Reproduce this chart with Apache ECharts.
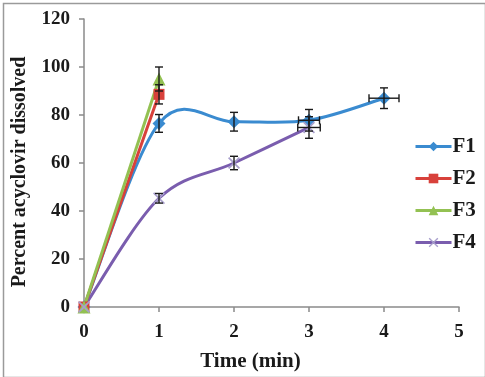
<!DOCTYPE html>
<html>
<head>
<meta charset="utf-8">
<script src="https://cdn.jsdelivr.net/npm/echarts@6/dist/echarts.min.js"></script>
<style>html,body{margin:0;padding:0;background:#fff}#c{width:485px;height:377px}</style>
</head>
<body>
<div id="c"></div>
<script>
// ---- data ----
var xTicks = [0, 1, 2, 3, 4, 5];
var yTicks = [0, 20, 40, 60, 80, 100, 120];
var seriesNames = ['F1', 'F2', 'F3', 'F4'];

var f1Time = [0, 1, 2, 3, 4];
var f1Value = [0, 76.5, 77.2, 77.8, 87];
var f1YErr = [0, 3.7, 3.9, 4.5, 4.3];
var f1XErr = [0, 0, 0, 0.14, 0.2];

var f2Time = [0, 1];
var f2Value = [0, 88.6];
var f2YErr = [0, 4];
var f2XErr = [0, 0];

var f3Time = [0, 1];
var f3Value = [0, 95];
var f3YErr = [0, 5];
var f3XErr = [0, 0];

var f4Time = [0, 1, 2, 3];
var f4Value = [0, 45.3, 60, 74.8];
var f4YErr = [0, 2, 2.8, 4.5];
var f4XErr = [0, 0, 0, 0.15];

var colors = ['#3a8bd0', '#d8413b', '#93c152', '#7a5dae'];
var f4MarkColor = '#a89fcc';
var font = 'Liberation Serif';

function pts(t, v) { return t.map(function (x, i) { return [x, v[i]]; }); }
function errs(t, v, ye, xe) { return t.map(function (x, i) { return [x, v[i], ye[i], xe[i]]; }); }

var errData = [].concat(
  errs(f1Time, f1Value, f1YErr, f1XErr),
  errs(f2Time, f2Value, f2YErr, f2XErr),
  errs(f3Time, f3Value, f3YErr, f3XErr),
  errs(f4Time, f4Value, f4YErr, f4XErr)
).filter(function (d) { return d[2] > 0 || d[3] > 0; });

// Excel-like (Catmull-Rom) smoothed segment drawn through the axes' scales
function smoothRender(tArr, vArr, color) {
  return function (params, api) {
    var i = params.dataIndex, n = tArr.length;
    if (i >= n - 1) return null;
    var P = function (k) { k = Math.max(0, Math.min(n - 1, k)); return api.coord([tArr[k], vArr[k]]); };
    var p0 = P(i - 1), p1 = P(i), p2 = P(i + 1), p3 = P(i + 2);
    var c1 = [p1[0] + (p2[0] - p0[0]) / 6, p1[1] + (p2[1] - p0[1]) / 6];
    var c2 = [p2[0] - (p3[0] - p1[0]) / 6, p2[1] - (p3[1] - p1[1]) / 6];
    return { type: 'bezierCurve',
      shape: { x1: p1[0], y1: p1[1], x2: p2[0], y2: p2[1], cpx1: c1[0], cpy1: c1[1], cpx2: c2[0], cpy2: c2[1] },
      style: { stroke: color, lineWidth: 3, fill: null } };
  };
}

var chart = echarts.init(document.getElementById('c'));
var xSym = 'path://M0,1L1,0L5,4L9,0L10,1L6,5L10,9L9,10L5,6L1,10L0,9L4,5Z';

chart.setOption({
  animation: false,
  grid: { left: 84, right: 26, top: 19, bottom: 69 },
  xAxis: {
    type: 'value', min: 0, max: 5, interval: 1,
    name: 'Time (min)', nameLocation: 'middle', nameGap: 44,
    nameTextStyle: { fontFamily: font, fontWeight: 'bold', fontSize: 21, color: '#1a1a1a', padding: [0, 42, 0, 0] },
    axisLine: { lineStyle: { color: '#8a8a8a', width: 1.5 } },
    axisTick: { show: true, length: 5, lineStyle: { color: '#8a8a8a', width: 1.5 } },
    axisLabel: { fontFamily: font, fontWeight: 'bold', fontSize: 19, color: '#1a1a1a', margin: 16,
      formatter: function (v) { return xTicks.indexOf(v) >= 0 ? String(v) : ''; } },
    splitLine: { show: false }
  },
  yAxis: {
    type: 'value', min: 0, max: 120, interval: 20,
    name: 'Percent acyclovir dissolved', nameLocation: 'middle', nameGap: 54,
    nameTextStyle: { fontFamily: font, fontWeight: 'bold', fontSize: 20, color: '#1a1a1a', padding: [0, 18, 0, 0] },
    axisLine: { show: true, lineStyle: { color: '#8a8a8a', width: 1.5 } },
    axisTick: { show: true, length: 5, lineStyle: { color: '#8a8a8a', width: 1.5 } },
    axisLabel: { fontFamily: font, fontWeight: 'bold', fontSize: 19, color: '#1a1a1a', margin: 14,
      formatter: function (v) { return yTicks.indexOf(v) >= 0 ? String(v) : ''; } },
    splitLine: { show: false }
  },
  legend: {
    orient: 'vertical', left: 409, top: 131, itemGap: 11,
    itemWidth: 36, itemHeight: 12,
    textStyle: { fontFamily: font, fontWeight: 'bold', fontSize: 21, color: '#1a1a1a', padding: [0, 0, 0, -4] },
    data: seriesNames.map(function (n, i) {
      return { name: n, lineStyle: { color: colors[i], width: 3, opacity: 1 } };
    })
  },
  graphic: [{
    type: 'rect', left: 1, top: 1, silent: true, z: -1,
    shape: { x: 0, y: 0, width: 482, height: 374 },
    style: { fill: 'none', stroke: '#9a9a9a', lineWidth: 1.5 }
  }],
  series: [
    { type: 'custom', name: 'F1 curve', data: pts(f1Time, f1Value), encode: { x: 0, y: 1 }, z: 2, silent: true,
      itemStyle: { color: colors[0] }, renderItem: smoothRender(f1Time, f1Value, colors[0]) },
    { type: 'custom', name: 'F4 curve', data: pts(f4Time, f4Value), encode: { x: 0, y: 1 }, z: 2, silent: true,
      itemStyle: { color: colors[3] }, renderItem: smoothRender(f4Time, f4Value, colors[3]) },
    { name: 'F1', type: 'line', data: pts(f1Time, f1Value), symbol: 'diamond', symbolSize: 13,
      itemStyle: { color: colors[0] }, lineStyle: { width: 3, color: colors[0], opacity: 0 }, z: 3 },
    { name: 'F2', type: 'line', data: pts(f2Time, f2Value), symbol: 'rect', symbolSize: 11,
      itemStyle: { color: colors[1] }, lineStyle: { width: 3, color: colors[1] }, z: 3 },
    { name: 'F3', type: 'line', data: pts(f3Time, f3Value), symbol: 'triangle', symbolSize: 13,
      itemStyle: { color: colors[2] }, lineStyle: { width: 3, color: colors[2] }, z: 3 },
    { name: 'F4', type: 'line', data: pts(f4Time, f4Value), symbol: xSym, symbolSize: 12,
      itemStyle: { color: f4MarkColor }, lineStyle: { width: 3, color: colors[3], opacity: 0 }, z: 3 },
    { type: 'custom', name: 'err', data: errData, encode: { x: 0, y: 1 }, z: 10, silent: true,
      renderItem: function (params, api) {
        var x = api.value(0), y = api.value(1), ye = api.value(2), xe = api.value(3);
        var c = api.coord([x, y]);
        var kids = [];
        var style = { stroke: '#1a1a1a', lineWidth: 1.4 };
        var cap = 4;
        if (ye > 0) {
          var t = api.coord([x, y + ye]), b = api.coord([x, y - ye]);
          kids.push({ type: 'line', shape: { x1: c[0], y1: t[1], x2: c[0], y2: b[1] }, style: style });
          kids.push({ type: 'line', shape: { x1: c[0] - cap, y1: t[1], x2: c[0] + cap, y2: t[1] }, style: style });
          kids.push({ type: 'line', shape: { x1: c[0] - cap, y1: b[1], x2: c[0] + cap, y2: b[1] }, style: style });
        }
        if (xe > 0) {
          var l = api.coord([x - xe, y]), r = api.coord([x + xe, y]);
          kids.push({ type: 'line', shape: { x1: l[0], y1: c[1], x2: r[0], y2: c[1] }, style: style });
          kids.push({ type: 'line', shape: { x1: l[0], y1: c[1] - cap, x2: l[0], y2: c[1] + cap }, style: style });
          kids.push({ type: 'line', shape: { x1: r[0], y1: c[1] - cap, x2: r[0], y2: c[1] + cap }, style: style });
        }
        return { type: 'group', children: kids };
      }
    }
  ]
});
</script>
</body>
</html>
